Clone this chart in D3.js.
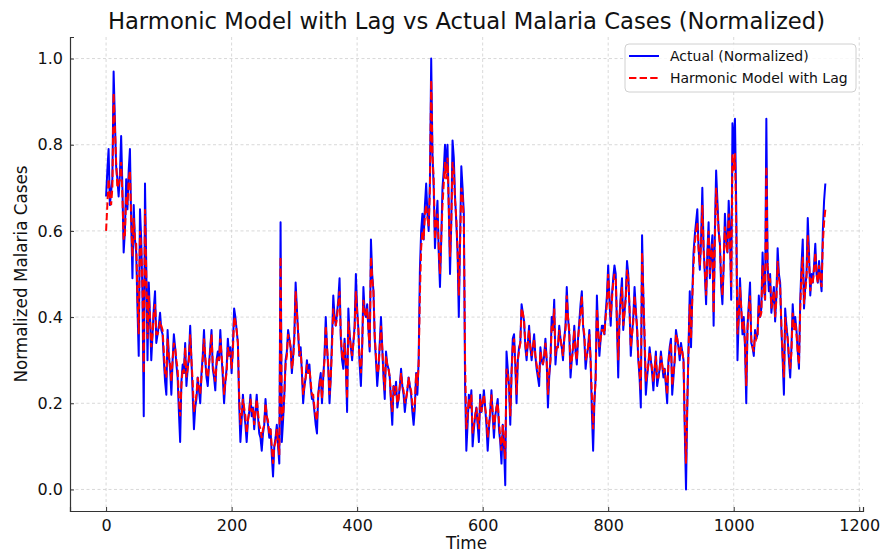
<!DOCTYPE html>
<html>
<head>
<meta charset="utf-8">
<script src="https://cdn.jsdelivr.net/npm/d3@7"></script>
<style>
  body { margin: 0; background: #fff; }
  svg { font-family: "DejaVu Sans", sans-serif; }
</style>
</head>
<body>
<div id="chart"></div>
<script>
// series read every 2 time steps
const timeStep = 2;

const actual = [
  0.68, 0.74, 0.79, 0.66, 0.69, 0.72, 0.97, 0.86, 0.75, 0.72, 0.68, 0.73, 0.82, 0.70, 0.55,
  0.60, 0.72, 0.65, 0.74, 0.79, 0.62, 0.49, 0.66, 0.58, 0.55, 0.42, 0.31, 0.65, 0.58, 0.45,
  0.17, 0.71, 0.52, 0.30, 0.48, 0.40, 0.30, 0.36, 0.42, 0.46, 0.34, 0.36, 0.38, 0.41, 0.37,
  0.36, 0.30, 0.25, 0.22, 0.37, 0.31, 0.28, 0.22, 0.30, 0.36, 0.33, 0.29, 0.26, 0.18, 0.11,
  0.25, 0.29, 0.27, 0.34, 0.24, 0.28, 0.31, 0.38, 0.30, 0.22, 0.14, 0.19, 0.21, 0.26, 0.23,
  0.20, 0.27, 0.31, 0.37, 0.30, 0.26, 0.24, 0.29, 0.33, 0.37, 0.28, 0.26, 0.23, 0.30, 0.32,
  0.30, 0.37, 0.31, 0.26, 0.20, 0.25, 0.28, 0.35, 0.31, 0.33, 0.27, 0.33, 0.42, 0.40, 0.37,
  0.34, 0.20, 0.11, 0.16, 0.22, 0.18, 0.15, 0.11, 0.16, 0.18, 0.22, 0.17, 0.19, 0.14, 0.18,
  0.22, 0.17, 0.13, 0.12, 0.09, 0.13, 0.15, 0.21, 0.17, 0.15, 0.12, 0.14, 0.08, 0.03, 0.10,
  0.12, 0.15, 0.10, 0.06, 0.62, 0.11, 0.16, 0.22, 0.30, 0.32, 0.37, 0.35, 0.33, 0.27, 0.31,
  0.36, 0.48, 0.42, 0.36, 0.31, 0.33, 0.27, 0.20, 0.24, 0.26, 0.30, 0.27, 0.29, 0.24, 0.21,
  0.21, 0.18, 0.15, 0.13, 0.22, 0.25, 0.27, 0.20, 0.26, 0.31, 0.40, 0.33, 0.28, 0.20, 0.26,
  0.35, 0.45, 0.40, 0.38, 0.41, 0.44, 0.49, 0.35, 0.30, 0.28, 0.35, 0.29, 0.18, 0.42, 0.36,
  0.33, 0.30, 0.34, 0.38, 0.50, 0.42, 0.37, 0.29, 0.24, 0.33, 0.47, 0.41, 0.40, 0.43, 0.37,
  0.32, 0.58, 0.50, 0.46, 0.35, 0.30, 0.24, 0.28, 0.34, 0.40, 0.33, 0.26, 0.21, 0.32, 0.29,
  0.28, 0.26, 0.20, 0.15, 0.24, 0.22, 0.25, 0.19, 0.21, 0.24, 0.28, 0.24, 0.22, 0.18, 0.21,
  0.23, 0.26, 0.24, 0.22, 0.18, 0.15, 0.19, 0.27, 0.22, 0.30, 0.51, 0.60, 0.64, 0.58, 0.66,
  0.71, 0.64, 0.60, 0.72, 1.00, 0.78, 0.70, 0.56, 0.62, 0.67, 0.55, 0.47, 0.58, 0.70, 0.74,
  0.80, 0.74, 0.80, 0.65, 0.50, 0.62, 0.81, 0.77, 0.68, 0.62, 0.55, 0.40, 0.58, 0.75, 0.70,
  0.64, 0.24, 0.09, 0.15, 0.22, 0.19, 0.23, 0.10, 0.14, 0.17, 0.19, 0.15, 0.11, 0.22, 0.18,
  0.20, 0.23, 0.19, 0.15, 0.09, 0.14, 0.18, 0.23, 0.17, 0.12, 0.17, 0.19, 0.21, 0.14, 0.11,
  0.06, 0.15, 0.10, 0.01, 0.32, 0.28, 0.24, 0.15, 0.27, 0.35, 0.36, 0.29, 0.20, 0.30, 0.33,
  0.34, 0.43, 0.41, 0.39, 0.33, 0.30, 0.34, 0.38, 0.33, 0.30, 0.33, 0.36, 0.31, 0.28, 0.26,
  0.24, 0.33, 0.30, 0.29, 0.31, 0.35, 0.30, 0.19, 0.26, 0.30, 0.40, 0.37, 0.44, 0.29, 0.33,
  0.33, 0.38, 0.35, 0.33, 0.30, 0.35, 0.38, 0.47, 0.40, 0.36, 0.26, 0.30, 0.33, 0.38, 0.32,
  0.29, 0.35, 0.39, 0.43, 0.46, 0.38, 0.35, 0.28, 0.31, 0.33, 0.37, 0.30, 0.18, 0.09, 0.20,
  0.26, 0.45, 0.37, 0.31, 0.35, 0.38, 0.38, 0.36, 0.41, 0.45, 0.52, 0.44, 0.38, 0.45, 0.49,
  0.52, 0.50, 0.38, 0.26, 0.40, 0.45, 0.49, 0.37, 0.41, 0.45, 0.53, 0.50, 0.42, 0.31, 0.36,
  0.40, 0.47, 0.42, 0.37, 0.30, 0.26, 0.19, 0.59, 0.45, 0.34, 0.22, 0.26, 0.29, 0.33, 0.30,
  0.27, 0.23, 0.28, 0.32, 0.24, 0.26, 0.28, 0.32, 0.29, 0.26, 0.28, 0.24, 0.20, 0.30, 0.33,
  0.35, 0.22, 0.26, 0.30, 0.37, 0.35, 0.33, 0.30, 0.34, 0.32, 0.30, 0.14, 0.00, 0.19, 0.33,
  0.46, 0.33, 0.45, 0.55, 0.59, 0.62, 0.65, 0.56, 0.51, 0.58, 0.70, 0.56, 0.50, 0.43, 0.55,
  0.62, 0.49, 0.55, 0.59, 0.38, 0.60, 0.74, 0.67, 0.60, 0.57, 0.47, 0.43, 0.52, 0.64, 0.58,
  0.55, 0.67, 0.60, 0.44, 0.85, 0.78, 0.86, 0.66, 0.30, 0.40, 0.49, 0.42, 0.36, 0.40, 0.33,
  0.20, 0.38, 0.43, 0.48, 0.34, 0.33, 0.31, 0.37, 0.35, 0.36, 0.45, 0.40, 0.42, 0.55, 0.47,
  0.44, 0.86, 0.52, 0.46, 0.50, 0.41, 0.44, 0.47, 0.39, 0.45, 0.56, 0.50, 0.48, 0.37, 0.30,
  0.22, 0.42, 0.38, 0.35, 0.30, 0.26, 0.33, 0.43, 0.38, 0.40, 0.37, 0.32, 0.28, 0.44, 0.52,
  0.58, 0.42, 0.47, 0.50, 0.63, 0.55, 0.45, 0.50, 0.48, 0.52, 0.57, 0.50, 0.48, 0.53, 0.49,
  0.46, 0.60, 0.67, 0.71
];

const model = [
  0.60, 0.66, 0.72, 0.68, 0.66, 0.70, 0.92, 0.84, 0.76, 0.70, 0.71, 0.72, 0.76, 0.68, 0.58,
  0.59, 0.68, 0.66, 0.72, 0.74, 0.63, 0.54, 0.63, 0.58, 0.57, 0.45, 0.36, 0.60, 0.56, 0.47,
  0.27, 0.65, 0.50, 0.35, 0.45, 0.40, 0.33, 0.36, 0.41, 0.43, 0.36, 0.36, 0.37, 0.39, 0.38,
  0.37, 0.32, 0.27, 0.26, 0.35, 0.31, 0.29, 0.25, 0.30, 0.34, 0.33, 0.30, 0.28, 0.21, 0.17,
  0.24, 0.28, 0.27, 0.33, 0.26, 0.28, 0.30, 0.36, 0.30, 0.25, 0.18, 0.20, 0.22, 0.26, 0.24,
  0.22, 0.26, 0.30, 0.35, 0.31, 0.27, 0.26, 0.29, 0.32, 0.36, 0.29, 0.27, 0.25, 0.29, 0.31,
  0.30, 0.35, 0.31, 0.28, 0.22, 0.25, 0.27, 0.33, 0.31, 0.32, 0.28, 0.32, 0.40, 0.39, 0.37,
  0.34, 0.22, 0.15, 0.17, 0.21, 0.19, 0.17, 0.13, 0.16, 0.18, 0.21, 0.18, 0.19, 0.15, 0.18,
  0.21, 0.18, 0.15, 0.14, 0.12, 0.14, 0.15, 0.20, 0.17, 0.16, 0.13, 0.14, 0.10, 0.06, 0.10,
  0.11, 0.14, 0.11, 0.08, 0.54, 0.16, 0.17, 0.22, 0.29, 0.31, 0.36, 0.35, 0.33, 0.28, 0.30,
  0.35, 0.46, 0.41, 0.37, 0.31, 0.32, 0.28, 0.22, 0.24, 0.26, 0.29, 0.27, 0.28, 0.25, 0.22,
  0.22, 0.19, 0.17, 0.16, 0.22, 0.24, 0.26, 0.21, 0.26, 0.30, 0.38, 0.33, 0.29, 0.22, 0.26,
  0.33, 0.42, 0.39, 0.38, 0.40, 0.43, 0.46, 0.36, 0.31, 0.30, 0.34, 0.29, 0.21, 0.39, 0.36,
  0.33, 0.31, 0.34, 0.37, 0.46, 0.41, 0.37, 0.30, 0.27, 0.33, 0.44, 0.41, 0.40, 0.42, 0.37,
  0.33, 0.54, 0.49, 0.46, 0.36, 0.31, 0.27, 0.28, 0.33, 0.38, 0.33, 0.27, 0.23, 0.31, 0.29,
  0.28, 0.26, 0.21, 0.18, 0.24, 0.22, 0.24, 0.20, 0.21, 0.24, 0.27, 0.24, 0.23, 0.20, 0.21,
  0.23, 0.26, 0.24, 0.23, 0.20, 0.18, 0.20, 0.27, 0.24, 0.29, 0.45, 0.56, 0.60, 0.58, 0.64,
  0.66, 0.63, 0.61, 0.70, 0.95, 0.78, 0.72, 0.58, 0.62, 0.64, 0.56, 0.50, 0.58, 0.66, 0.71,
  0.76, 0.72, 0.77, 0.66, 0.54, 0.62, 0.76, 0.74, 0.67, 0.63, 0.56, 0.45, 0.57, 0.70, 0.68,
  0.62, 0.30, 0.14, 0.17, 0.21, 0.19, 0.22, 0.13, 0.15, 0.17, 0.19, 0.16, 0.14, 0.21, 0.18,
  0.20, 0.22, 0.19, 0.17, 0.12, 0.15, 0.18, 0.22, 0.18, 0.14, 0.17, 0.19, 0.20, 0.16, 0.12,
  0.09, 0.15, 0.11, 0.07, 0.28, 0.27, 0.24, 0.17, 0.27, 0.33, 0.35, 0.29, 0.22, 0.30, 0.32,
  0.34, 0.42, 0.41, 0.39, 0.34, 0.31, 0.34, 0.37, 0.33, 0.31, 0.33, 0.35, 0.31, 0.29, 0.27,
  0.26, 0.32, 0.30, 0.29, 0.31, 0.34, 0.30, 0.22, 0.27, 0.30, 0.38, 0.37, 0.42, 0.31, 0.33,
  0.33, 0.37, 0.35, 0.33, 0.31, 0.35, 0.37, 0.45, 0.40, 0.37, 0.28, 0.30, 0.33, 0.37, 0.32,
  0.30, 0.35, 0.38, 0.41, 0.45, 0.38, 0.36, 0.30, 0.31, 0.33, 0.36, 0.30, 0.22, 0.14, 0.21,
  0.25, 0.42, 0.37, 0.33, 0.35, 0.37, 0.37, 0.36, 0.40, 0.43, 0.50, 0.44, 0.40, 0.44, 0.48,
  0.50, 0.49, 0.39, 0.30, 0.39, 0.44, 0.47, 0.38, 0.41, 0.44, 0.51, 0.49, 0.42, 0.33, 0.36,
  0.39, 0.45, 0.41, 0.38, 0.31, 0.27, 0.23, 0.55, 0.45, 0.36, 0.25, 0.27, 0.29, 0.32, 0.30,
  0.28, 0.25, 0.28, 0.31, 0.26, 0.26, 0.28, 0.31, 0.29, 0.27, 0.28, 0.25, 0.22, 0.29, 0.32,
  0.34, 0.24, 0.27, 0.30, 0.36, 0.35, 0.33, 0.31, 0.33, 0.32, 0.30, 0.16, 0.06, 0.20, 0.32,
  0.43, 0.35, 0.44, 0.52, 0.57, 0.60, 0.62, 0.56, 0.52, 0.57, 0.66, 0.56, 0.51, 0.45, 0.54,
  0.60, 0.50, 0.55, 0.57, 0.41, 0.58, 0.70, 0.65, 0.60, 0.57, 0.49, 0.45, 0.52, 0.61, 0.57,
  0.55, 0.64, 0.58, 0.47, 0.78, 0.74, 0.78, 0.62, 0.36, 0.40, 0.47, 0.42, 0.37, 0.39, 0.34,
  0.24, 0.37, 0.42, 0.45, 0.35, 0.33, 0.32, 0.36, 0.35, 0.36, 0.43, 0.40, 0.41, 0.52, 0.47,
  0.44, 0.75, 0.52, 0.48, 0.49, 0.42, 0.44, 0.46, 0.40, 0.44, 0.53, 0.49, 0.47, 0.38, 0.31,
  0.26, 0.40, 0.37, 0.35, 0.31, 0.28, 0.32, 0.41, 0.37, 0.39, 0.36, 0.32, 0.29, 0.42, 0.50,
  0.54, 0.43, 0.46, 0.49, 0.59, 0.53, 0.46, 0.49, 0.48, 0.51, 0.55, 0.50, 0.48, 0.52, 0.49,
  0.47, 0.57, 0.62, 0.65
];

const xTicks = [0, 200, 400, 600, 800, 1000, 1200];
const yTicks = [0.0, 0.2, 0.4, 0.6, 0.8, 1.0];
const seriesNames = ["Actual (Normalized)", "Harmonic Model with Lag"];
const seriesColors = ["#0000ff", "#ff0000"];

const width = 891;
const height = 553;
const margin = { top: 37, right: 28, bottom: 42, left: 70 };

const svg = d3.select("#chart")
  .append("svg")
  .attr("width", width)
  .attr("height", height);

const x = d3.scaleLinear()
  .domain([-57.5, 1206])
  .range([margin.left, width - margin.right]);

const y = d3.scaleLinear()
  .domain([-0.05, 1.05])
  .range([height - margin.bottom, margin.top]);

// grid
const grid = svg.append("g")
  .attr("stroke", "#cfcfcf")
  .attr("stroke-width", 0.8)
  .attr("stroke-dasharray", "3,2.5");

grid.selectAll(".gx")
  .data(xTicks)
  .join("line")
  .attr("x1", d => x(d))
  .attr("x2", d => x(d))
  .attr("y1", margin.top)
  .attr("y2", height - margin.bottom);

grid.selectAll(".gy")
  .data(yTicks)
  .join("line")
  .attr("x1", margin.left)
  .attr("x2", width - margin.right)
  .attr("y1", d => y(d))
  .attr("y2", d => y(d));

const line = d3.line()
  .x((d, i) => x(i * timeStep))
  .y(d => y(d));

svg.append("path")
  .datum(actual)
  .attr("fill", "none")
  .attr("stroke", seriesColors[0])
  .attr("stroke-width", 2)
  .attr("stroke-linejoin", "round")
  .attr("d", line);

svg.append("path")
  .datum(model)
  .attr("fill", "none")
  .attr("stroke", seriesColors[1])
  .attr("stroke-width", 2)
  .attr("stroke-dasharray", "7.4,3.2")
  .attr("d", line);

// axes
const xAxis = svg.append("g")
  .attr("transform", `translate(0,${height - margin.bottom})`)
  .call(d3.axisBottom(x).tickValues(xTicks).tickSize(-4).tickPadding(9).tickFormat(d3.format("d")));

const yAxis = svg.append("g")
  .attr("transform", `translate(${margin.left},0)`)
  .call(d3.axisLeft(y).tickValues(yTicks).tickSize(-4).tickPadding(7).tickFormat(d3.format(".1f")));

[xAxis, yAxis].forEach(a => {
  a.select(".domain").attr("stroke", "#333").attr("stroke-width", 1.2);
  a.selectAll(".tick line").attr("stroke", "#333").attr("stroke-width", 1);
  a.selectAll(".tick text")
    .attr("fill", "#111")
    .style("font-size", "16px")
    .style("font-family", "DejaVu Sans");
});

// labels
svg.append("text")
  .attr("x", (margin.left + width - margin.right) / 2)
  .attr("y", 29)
  .attr("text-anchor", "middle")
  .style("font-size", "22.7px")
  .attr("fill", "#111")
  .text("Harmonic Model with Lag vs Actual Malaria Cases (Normalized)");

svg.append("text")
  .attr("x", (margin.left + width - margin.right) / 2)
  .attr("y", 549)
  .attr("text-anchor", "middle")
  .style("font-size", "16.8px")
  .attr("fill", "#111")
  .text("Time");

svg.append("text")
  .attr("transform", "translate(27,274) rotate(-90)")
  .attr("text-anchor", "middle")
  .style("font-size", "16.8px")
  .attr("fill", "#111")
  .text("Normalized Malaria Cases");

// legend
const legend = svg.append("g").attr("transform", "translate(625,44)");
legend.append("rect")
  .attr("width", 231)
  .attr("height", 48)
  .attr("rx", 4)
  .attr("fill", "#fff")
  .attr("fill-opacity", 0.8)
  .attr("stroke", "#d0d0d0");

const items = legend.selectAll(".item")
  .data(seriesNames)
  .join("g")
  .attr("transform", (d, i) => `translate(0,${12 + i * 22})`);

items.append("line")
  .attr("x1", 4)
  .attr("x2", 34)
  .attr("stroke", (d, i) => seriesColors[i])
  .attr("stroke-width", 2)
  .attr("stroke-dasharray", (d, i) => i === 0 ? null : "7.4,3.2");

items.append("text")
  .attr("x", 45)
  .attr("y", 5)
  .style("font-size", "14px")
  .attr("fill", "#111")
  .text(d => d);
</script>
</body>
</html>
